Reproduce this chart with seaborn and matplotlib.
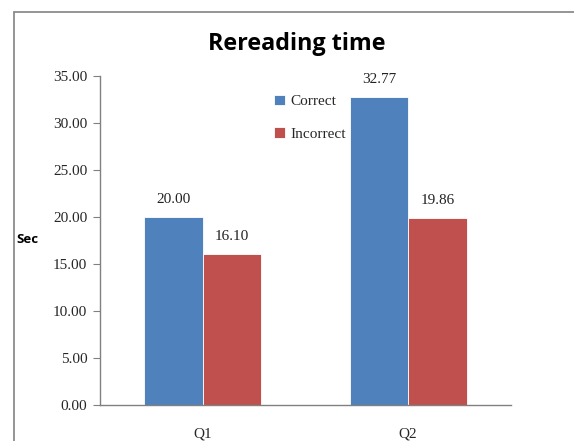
import pandas as pd
import matplotlib.pyplot as plt
import seaborn as sns
from matplotlib.lines import Line2D

# Data
questions = ["Q1", "Q2"]
groups = ["Correct", "Incorrect"]
correct_times = [20.00, 32.77]
incorrect_times = [16.10, 19.86]

df = pd.DataFrame({
    "question": questions * 2,
    "group": [groups[0]] * 2 + [groups[1]] * 2,
    "sec": correct_times + incorrect_times,
})

sns.set_style("white")
plt.rcParams["font.family"] = ["Liberation Serif", "DejaVu Serif"]

fig = plt.figure(figsize=(5.74, 4.41), dpi=100)
ax = fig.add_axes([0.174, 0.0816, 0.716, 0.7461])

palette = {"Correct": "#4F81BD", "Incorrect": "#C0504D"}
sns.barplot(data=df, x="question", y="sec", hue="group", palette=palette,
            width=0.57, saturation=1, edgecolor="white", linewidth=0.6, ax=ax)

# value labels
for container in ax.containers:
    ax.bar_label(container, fmt="%.2f", padding=8, fontsize=11, color="#222222")

ax.set_xlim(-0.5, 1.5)
ax.set_ylim(0, 35)
ax.set_yticks(range(0, 36, 5))
ax.set_yticklabels([f"{v:.2f}" for v in range(0, 36, 5)], fontsize=11)
ax.set_xticks([0, 1])
ax.set_xticklabels(questions, fontsize=11)
ax.tick_params(axis="x", length=0, pad=16)
ax.set_xticks([-0.5, 0.5, 1.5], minor=True)
ax.tick_params(axis="x", which="minor", length=5, color="#808080", direction="out")
ax.tick_params(axis="y", length=5, color="#808080", direction="out", left=True, pad=4)
ax.set_xlabel("")
ax.set_ylabel("")

for side in ["top", "right"]:
    ax.spines[side].set_visible(False)
for side in ["left", "bottom"]:
    ax.spines[side].set_color("#808080")
    ax.spines[side].set_linewidth(1)

leg = ax.legend(loc="upper left", bbox_to_anchor=(0.39, 0.985), frameon=False,
                handlelength=0.7, handleheight=0.7, handletextpad=0.4,
                labelspacing=1.25, fontsize=11)

fig.text(0.517, 0.9, "Rereading time", ha="center", va="center", color="black",
         fontsize=16.8, fontweight="bold", family=["Open Sans", "DejaVu Sans"])
fig.text(0.047, 0.456, "Sec", ha="center", va="center", color="black",
         fontsize=9.5, fontweight="bold", family=["Open Sans", "DejaVu Sans"])

# chart area border (cut off at right and bottom)
bx = 13.5 / 574
by = 1 - 11.5 / 441
fig.add_artist(Line2D([bx, bx], [0, by], transform=fig.transFigure,
                      color="#8c8c8c", linewidth=1.3))
fig.add_artist(Line2D([bx, 1], [by, by], transform=fig.transFigure,
                      color="#8c8c8c", linewidth=1.3))

fig.savefig("out.png", dpi=100)
